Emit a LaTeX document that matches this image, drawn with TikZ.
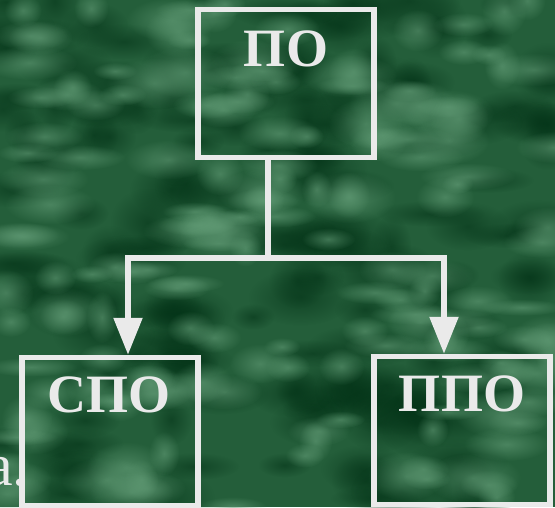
\documentclass[tikz,border=0pt]{standalone}
\usepackage{fontspec}
\setmainfont{Liberation Serif}
\usetikzlibrary{arrows.meta,calc,positioning,fadings}
\definecolor{slidegreen}{RGB}{36,94,58}
\definecolor{mossdark}{RGB}{4,52,24}
\definecolor{mosslight}{RGB}{100,158,120}
\definecolor{chalk}{RGB}{234,234,234}
\tikzfading[name=softblob,inner color=transparent!0,outer color=transparent!100]

\begin{document}
\begin{tikzpicture}[x=1pt,y=-1pt,
    box/.style={draw=chalk,line width=5.5pt,minimum width=176pt,minimum height=148pt,inner sep=0pt},
    lbl/.style={text=chalk,font=\fontsize{54}{60}\selectfont\bfseries,inner sep=0pt},
    wire/.style={draw=chalk,line width=5.5pt},
    tip/.style={-{Triangle[length=37pt,width=28pt]}},
    blob/.style={path fading=softblob,fill opacity=.6}]
        \useasboundingbox (0,0) rectangle (555,507);
        % marble background
        \fill[slidegreen] (0,0) rectangle (555,507);
        \begin{scope}
            \clip (0,0) rectangle (555,507);
            \pgfmathsetseed{11}
            \foreach \i in {1,...,170}{
                \pgfmathsetmacro\px{555*rnd}
                \pgfmathsetmacro\py{507*rnd}
                \pgfmathsetmacro\rx{20+40*rnd}
                \pgfmathsetmacro\ry{12+22*rnd}
                \fill[mossdark,blob] (\px,\py) ellipse [x radius=\rx, y radius=\ry];
            }
            \foreach \i in {1,...,170}{
                \pgfmathsetmacro\px{555*rnd}
                \pgfmathsetmacro\py{507*rnd}
                \pgfmathsetmacro\rx{15+35*rnd}
                \pgfmathsetmacro\ry{8+18*rnd}
                \fill[mosslight,blob] (\px,\py) ellipse [x radius=\rx, y radius=\ry];
            }
        \end{scope}
        \node[anchor=base west,text=chalk,font=\fontsize{60}{66}\selectfont,inner sep=0pt] (frag) at (-14,485) {a.};
        % boxes
        \node[box] at (286,83.5) (po) {};
        \node[box] at (110,431.5) (spo) {};
        \node[box] at (462,430.5) (ppo) {};
        \node[lbl] at ($(po.north)+(0,42.5)$) (tpo) {ПО};
        \node[lbl] at ($(spo.north)+(-1,40)$) (tspo) {СПО};
        \node[lbl] at ($(ppo.north)+(0,40.5)$) (tppo) {ППО};
        \coordinate (fork) at (268,258);
        \draw[wire] (po.south -| fork) -- (fork);
        \draw[wire,tip] (fork) -| ([xshift=18pt]spo.north);
        \draw[wire,tip] (fork) -| ([xshift=-18pt]ppo.north);
\end{tikzpicture}
\end{document}
